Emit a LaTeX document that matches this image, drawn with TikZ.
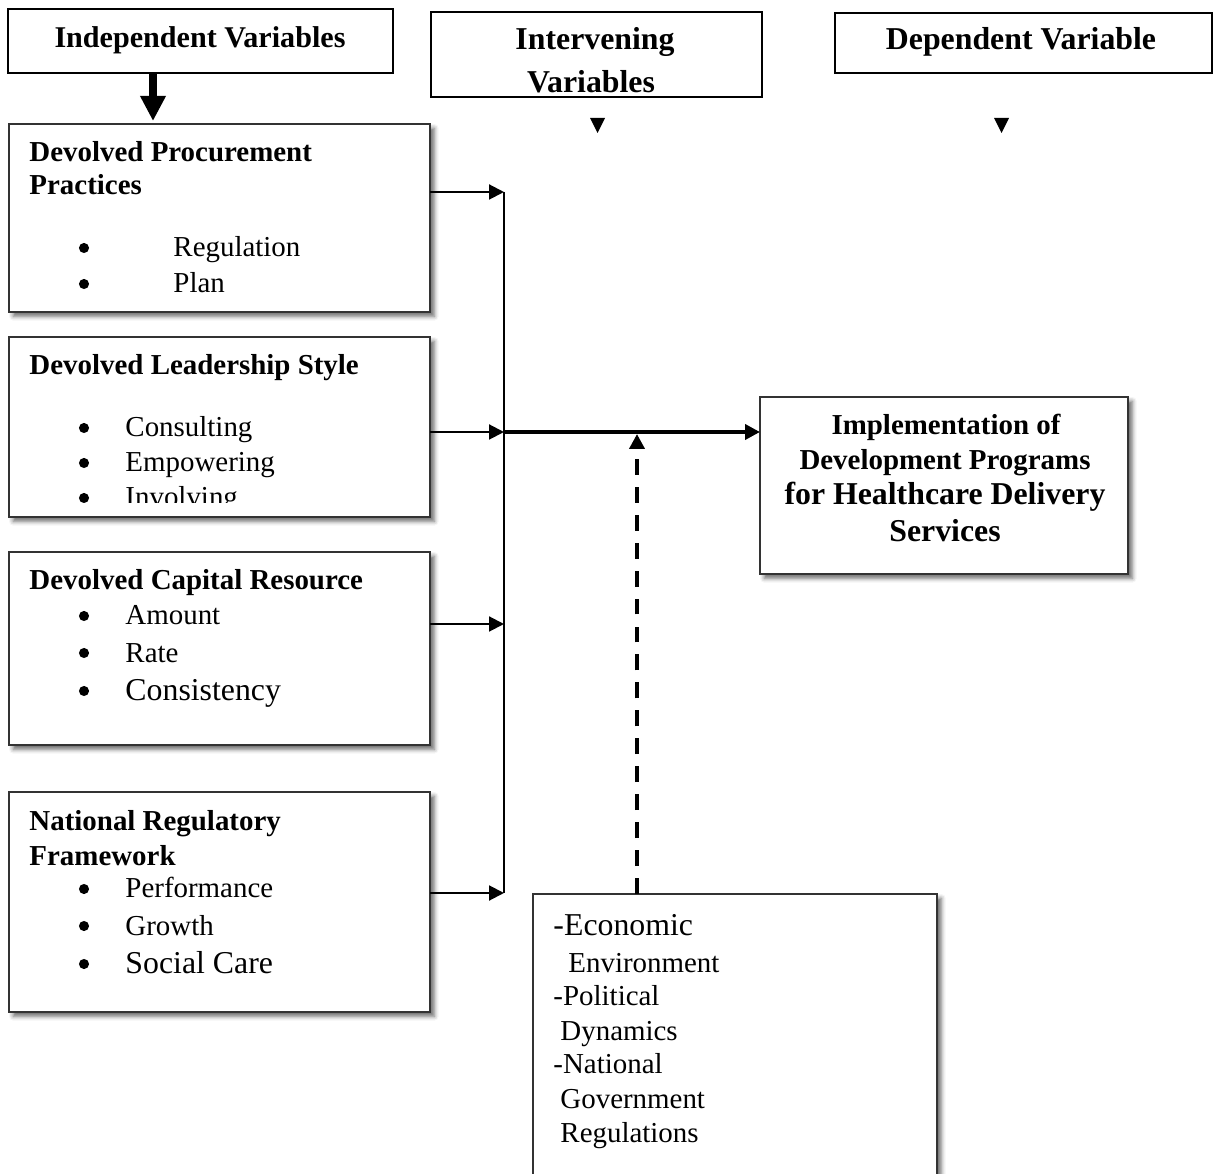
\documentclass[tikz,border=0pt]{standalone}
\usepackage{fontspec}
\setmainfont{Liberation Serif}
\usetikzlibrary{arrows.meta,shadows.blur}

\def\pu{0.415pt}

\tikzset{
  box size/.style 2 args={minimum width=#1*\pu, minimum height=#2*\pu},
  headbox/.style={draw, line width=0.8pt, anchor=north west, inner sep=0pt, outer sep=0pt},
  varbox/.style={draw=black!80, line width=0.7pt, fill=white, anchor=north west, inner sep=0pt, outer sep=0pt,
    blur shadow={shadow xshift=1.8pt, shadow yshift=-1.8pt, shadow blur radius=1.8pt, shadow opacity=60}},
  txt/.style={anchor=base west, inner sep=0pt, font=\fontsize{12}{14}\selectfont},
  bigtxt/.style={txt, font=\fontsize{13.2}{15}\selectfont},
  title/.style={txt, font=\fontsize{12}{14}\selectfont\bfseries},
  headtxt/.style={anchor=base, inner sep=0pt, font=\fontsize{13.2}{15}\selectfont\bfseries},
  link/.style={line width=0.85pt, -{Triangle[length=6.2pt, width=6.2pt]}},
  mainlink/.style={line width=1.7pt, -{Triangle[length=6.2pt, width=6.2pt]}},
  envlink/.style={line width=2pt, dash pattern=on 6.6pt off 5pt, -{Triangle[length=6.2pt, width=6.2pt]}},
}

\begin{document}
\begin{tikzpicture}[x=\pu, y=-\pu]
  \useasboundingbox (0,0) rectangle (1219,1174);

  % headings
  \node[headbox, box size={385}{64}] (ind) at (8,9) {};
  \node[headbox, box size={331}{85}] (inter) at (431,12) {};
  \node[headbox, box size={377}{60}] (dep) at (835,13) {};
  \node[headtxt, font=\fontsize{12.5}{15}\selectfont\bfseries] (indT) at (200,48) {Independent Variables};
  \node[headtxt] (interT) at (595,50) {Intervening};
  \begin{scope}
    \clip (431,12) rectangle (762,94);
    \node[headtxt] (interT2) at (591,93) {Variables};
  \end{scope}
  \node[headtxt] (depT) at (1021,50) {Dependent Variable};

  % loose tips under the headings
  \fill (590,118) -- (605,118) -- (597.5,133) -- cycle;
  \fill (994,118) -- (1009,118) -- (1001.5,133) -- cycle;

  % variable boxes
  \node[varbox, box size={421}{188}] (proc) at (9,124) {};
  \node[varbox, box size={421}{180}] (lead) at (9,337) {};
  \node[varbox, box size={421}{193}] (cap) at (9,552) {};
  \node[varbox, box size={421}{220}] (nat) at (9,792) {};
  \node[varbox, box size={368}{177}] (impl) at (760,397) {};
  \node[varbox, box size={404}{300}] (ctx) at (533,894) {};

  \coordinate (ptip) at (153,121);
  \draw[line width=3.5pt, -{Triangle[length=10.4pt, width=10pt]}] (ind.south -| ptip) -- (ptip);

  % procurement
  \node[title] (procT) at (29,162) {Devolved Procurement};
  \node[title] (procT2) at (29,195) {Practices};
  \node[txt] (reg) at (173,257) {Regulation};
  \node[txt] (plan) at (173,293) {Plan};

  % leadership
  \node[title] (leadT) at (29,375) {Devolved Leadership Style};
  \node[txt] (cons) at (125,437) {Consulting};
  \node[txt] (emp) at (125,472) {Empowering};
  \begin{scope}
    \clip (9,337) rectangle (430,503);
    \node[txt] (inv) at (125,507) {Involving};
    \fill (84,498) circle[radius=2.1pt];
  \end{scope}

  % capital
  \node[title] (capT) at (29,590) {Devolved Capital Resource};
  \node[txt] (amt) at (125,625) {Amount};
  \node[txt] (rate) at (125,662) {Rate};
  \node[bigtxt] (consis) at (125,700) {Consistency};

  % national
  \node[title] (natT) at (29,830) {National Regulatory};
  \node[title] (natT2) at (29,865) {Framework};
  \node[txt] (perf) at (125,898) {Performance};
  \node[txt] (grow) at (125,935) {Growth};
  \node[bigtxt] (soc) at (125,973) {Social Care};

  % bullets
  \foreach \y in {257,293,437,472,625,662,700,898,935,973}
    \fill (84,\y-9) circle[radius=2.1pt];

  % dependent
  \node[title, anchor=base] (implT1) at (946,435) {Implementation of};
  \node[title, anchor=base] (implT2) at (945,470) {Development Programs};
  \node[title, anchor=base, font=\fontsize{13.2}{15}\selectfont\bfseries] (implT3) at (945,505) {for Healthcare Delivery};
  \node[title, anchor=base, font=\fontsize{13.2}{15}\selectfont\bfseries] (implT4) at (945,542) {Services};

  % intervening
  \node[bigtxt] (eco) at (553,935) {-Economic};
  \node[txt] (eco2) at (568,972) {Environment};
  \node[txt] (pol) at (553,1005) {-Political};
  \node[txt] (pol2) at (560,1040) {Dynamics};
  \node[txt] (gov) at (553,1073) {-National};
  \node[txt] (gov2) at (560,1108) {Government};
  \node[txt] (gov3) at (560,1142) {Regulations};

  % connectors
  \coordinate (j1) at (504,192);
  \coordinate (j2) at (504,432);
  \coordinate (j3) at (504,624);
  \coordinate (j4) at (504,893);
  \draw[link] (proc.east |- j1) -- (j1);
  \draw[link] (lead.east |- j2) -- (j2);
  \draw[link] (cap.east |- j3) -- (j3);
  \draw[link] (nat.east |- j4) -- (j4);
  \draw[line width=0.85pt] (j1) -- (j4);
  \draw[mainlink] (j2) -- (impl.west |- j2);

  \coordinate (dtip) at (637,434);
  \draw[envlink] (ctx.north -| dtip) -- (dtip);
\end{tikzpicture}
\end{document}
